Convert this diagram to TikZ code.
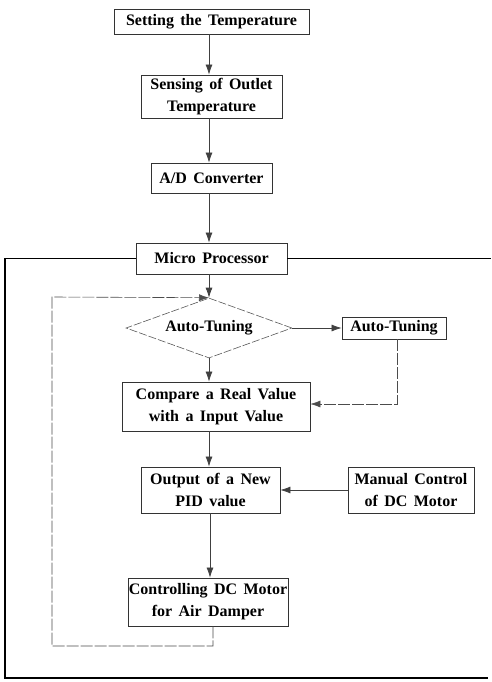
\documentclass[tikz,border=0pt]{standalone}
\usepackage{fontspec}
\setmainfont{Liberation Serif}
\usetikzlibrary{shapes.geometric,arrows.meta}
\newcommand{\boxfont}{\fontsize{16}{22}\selectfont\bfseries\spaceskip=0.4em plus 0.1em\relax}
\begin{document}
\begin{tikzpicture}[x=1pt,y=-1pt,
  box/.style={draw=black!80,line width=0.8pt,inner sep=0pt,align=center,font=\boxfont},
  dia/.style={draw=black!65,line width=0.6pt,dash pattern=on 8pt off 2pt,diamond,aspect=2.77,inner sep=0pt,font=\boxfont},
  conn/.style={draw=black!75,line width=0.7pt},
  tip/.style={-{Latex[length=10pt,width=7pt]}},
  arr/.style={conn,tip},
  loopline/.style={draw=black!70,line width=0.6pt,dash pattern=on 12pt off 2pt},
  frame/.style={draw=black,line width=1.4pt}]
\useasboundingbox (0,0) rectangle (491,682);
\fill[white] (0,0) rectangle (491,682);
\coordinate (col) at (209,0);
\node[box,minimum width=195pt,minimum height=25pt] (set) at (211.5,21.5) {Setting the Temperature};
\node[box,minimum width=141pt,minimum height=43pt] (sense) at (211.5,96.5) {Sensing of Outlet\\Temperature};
\node[box,minimum width=121pt,minimum height=30pt] (ad) at (211.5,178) {A/D Converter};
\node[box,minimum width=151pt,minimum height=31pt] (micro) at (211.5,258.5) {Micro Processor};
\node[dia,minimum width=166pt,minimum height=60pt] (dia) at (209,328) {Auto-Tuning};
\node[box,minimum width=104pt,minimum height=22pt] (auto) at (394,328) {Auto-Tuning};
\node[box,minimum width=188pt,minimum height=49pt] (cmp) at (216,406.5) {Compare a Real Value\\with a Input Value};
\node[box,minimum width=139pt,minimum height=46pt] (out) at (210.5,490) {Output of a New\\PID value};
\node[box,minimum width=126pt,minimum height=46pt] (man) at (411,490) {Manual Control\\of DC Motor};
\node[box,minimum width=160pt,minimum height=48pt] (ctl) at (208,602) {Controlling DC Motor\\for Air Damper};
% main chain
\draw[arr] (set.south -| col) -- (sense.north -| col);
\draw[arr] (sense.south -| col) -- (ad.north -| col);
\draw[arr] (ad.south -| col) -- (micro.north -| col);
\draw[arr] (micro.south -| col) -- (dia.north);
\draw[arr] (dia.south) -- (cmp.north -| col);
\draw[arr] (cmp.south -| col) -- (out.north -| col);
\draw[arr] ([xshift=1pt]out.south -| col) -- ([xshift=1pt]ctl.north -| col);
% auto tuning branch
\draw[arr] (dia.east) -- (auto.west);
\coordinate (ab) at (397,404);
\draw[loopline,tip] (auto.south -| ab) -- (ab) -- (cmp.east |- ab);
% manual
\draw[arr] (man.west) -- (out.east);
% feedback loop
\coordinate (lb) at (213,646);
\coordinate (ll) at (52,297);
\draw[loopline,tip] (ctl.south -| lb) -- (lb) -- (ll |- lb) -- (ll) -- (dia.north);
% outer frame
\coordinate (fl) at (5,678);
\coordinate (fr) at (488,678);
\draw[frame] (micro.west) -- (fl |- micro.west) -- (fl) -- (fr);
\draw[frame] (micro.east) -- (491,0 |- micro.east);
\end{tikzpicture}
\end{document}
